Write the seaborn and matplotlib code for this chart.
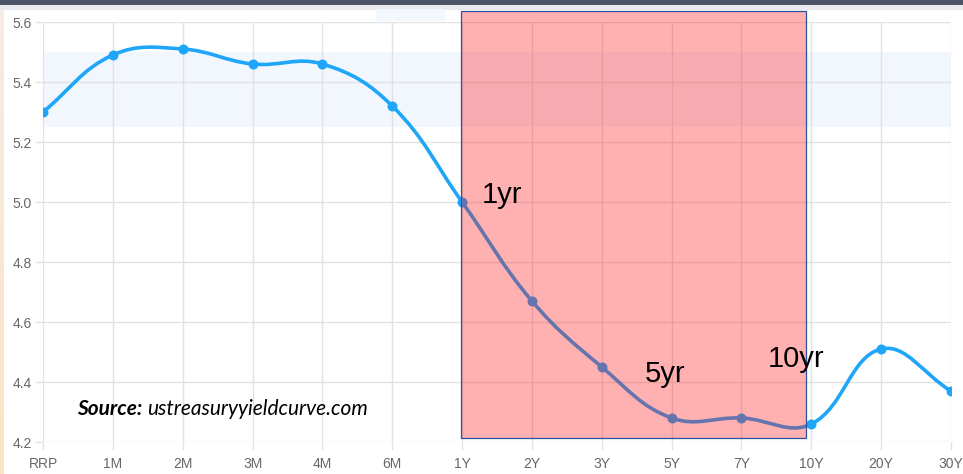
import numpy as np
import matplotlib
matplotlib.use("Agg")
import matplotlib.pyplot as plt
from matplotlib.path import Path
from matplotlib.patches import PathPatch, Rectangle
from matplotlib.transforms import offset_copy
import pandas as pd
import seaborn as sns

# Treasury yield curve
maturities = ["RRP", "1M", "2M", "3M", "4M", "6M", "1Y", "2Y", "3Y", "5Y", "7Y", "10Y", "20Y", "30Y"]
yields = [5.30, 5.49, 5.51, 5.46, 5.46, 5.32, 5.00, 4.67, 4.45, 4.28, 4.28, 4.26, 4.51, 4.37]
y_ticks = [4.2, 4.4, 4.6, 4.8, 5.0, 5.2, 5.4, 5.6]
fed_band = (5.25, 5.50)
callouts = [("1yr", 6.28, 4.997), ("5yr", 8.62, 4.40), ("10yr", 10.38, 4.45)]

df = pd.DataFrame({"pos": np.arange(len(maturities)), "yield": yields})

sns.set_theme(style="white")
plt.rcParams["font.family"] = ["Liberation Sans", "DejaVu Sans"]

W, H = 963, 474
fig = plt.figure(figsize=(W / 100, H / 100), dpi=100)
fig.patch.set_facecolor("white")

# window chrome along the top and left edge
fig.patches.append(Rectangle((0, 1 - 5 / H), 1, 5 / H, transform=fig.transFigure,
                             facecolor="#4b5565", edgecolor="none", zorder=0))
fig.patches.append(Rectangle((0, 1 - 10 / H), 1, 5 / H, transform=fig.transFigure,
                             facecolor="#e8eaee", edgecolor="none", zorder=0))
fig.patches.append(Rectangle((376 / W, 1 - 21 / H), 69 / W, 12 / H, transform=fig.transFigure,
                             facecolor="#f3f8fe", edgecolor="none", zorder=0))
grad_ax = fig.add_axes([0, 0, 4 / W, 1 - 10 / H])
grad_ax.imshow(np.linspace(0, 1, 100).reshape(-1, 1), aspect="auto", origin="lower",
               cmap=matplotlib.colors.LinearSegmentedColormap.from_list(
                   "edge", ["#fde3c2", "#f6ece6"]))
grad_ax.set_axis_off()

ax = fig.add_axes([43 / W, 1 - 442 / H, (951 - 43) / W, (442 - 22) / H])
ax.set_xlim(0, len(maturities) - 1)
ax.set_ylim(4.2, 5.6)
ax.set_facecolor("none")

# Fed funds target range
ax.axhspan(*fed_band, color="#f2f7fe", zorder=0, lw=0)

# grid and ticks
ax.set_xticks(df["pos"])
ax.set_xticklabels(maturities)
ax.set_yticks(y_ticks)
ax.set_yticklabels([f"{v:.1f}" for v in y_ticks])
ax.grid(True, color="#e2e2e2", lw=1.0, zorder=1)
ax.set_axisbelow(True)
for s in ax.spines.values():
    s.set_visible(False)
ax.tick_params(axis="both", length=6, width=1.0, color="#e2e2e2", labelcolor="#666666",
               labelsize=10, left=True, bottom=True)
ax.tick_params(axis="y", pad=2)
ax.tick_params(axis="x", pad=5)

# smooth line with tension-style cubic bezier control points
sx, sy = 69.85, 300.0
px = df["pos"].to_numpy() * sx
py = df["yield"].to_numpy() * sy
tension = 0.4
n = len(px)
cp_prev, cp_next = [], []
for i in range(n):
    pi, ni = max(i - 1, 0), min(i + 1, n - 1)
    d01 = np.hypot(px[i] - px[pi], py[i] - py[pi])
    d12 = np.hypot(px[ni] - px[i], py[ni] - py[i])
    tot = d01 + d12
    s01 = d01 / tot if tot else 0
    s12 = d12 / tot if tot else 0
    fa, fb = tension * s01, tension * s12
    dx, dy = px[ni] - px[pi], py[ni] - py[pi]
    cp_prev.append((px[i] - fa * dx, py[i] - fa * dy))
    cp_next.append((px[i] + fb * dx, py[i] + fb * dy))

verts = [(px[0] / sx, py[0] / sy)]
codes = [Path.MOVETO]
for i in range(n - 1):
    verts += [(cp_next[i][0] / sx, cp_next[i][1] / sy),
              (cp_prev[i + 1][0] / sx, cp_prev[i + 1][1] / sy),
              (px[i + 1] / sx, py[i + 1] / sy)]
    codes += [Path.CURVE4] * 3
line_color = "#1fa6f9"
ax.add_patch(PathPatch(Path(verts, codes), fill=False, edgecolor=line_color, lw=2.6,
                       zorder=3, capstyle="round", joinstyle="round"))
sns.scatterplot(data=df, x="pos", y="yield", ax=ax, color=line_color, s=52,
                edgecolor=line_color, linewidth=0, zorder=4, legend=False)
ax.set_xlabel("")
ax.set_ylabel("")

# highlighted 1Y-10Y window
ax.add_patch(Rectangle((5.984, 4.213), 10.923 - 5.984, 5.637 - 4.213,
                       facecolor=(1.0, 0.05, 0.05, 0.32), edgecolor="#2e4f9e", lw=0.9,
                       zorder=5, clip_on=False))

for label, x, y in callouts:
    ax.text(x, y, label, fontsize=21, color="black", ha="left", va="baseline", zorder=6)

# source note: bold italic lead-in followed by the site name
src_font = dict(fontsize=15, fontstyle="italic", family=["Lato", "DejaVu Sans"],
                color="black", ha="left", va="baseline", zorder=6)
lead = ax.text(0.487, 4.29, "Source:", fontweight="bold", **src_font)
fig.canvas.draw()
lead_w = lead.get_window_extent().width
ax.text(0.487, 4.29, "ustreasuryyieldcurve.com",
        transform=offset_copy(ax.transData, fig=fig, x=lead_w + 5, units="dots"),
        **src_font)

fig.savefig("out.png", dpi=100)
